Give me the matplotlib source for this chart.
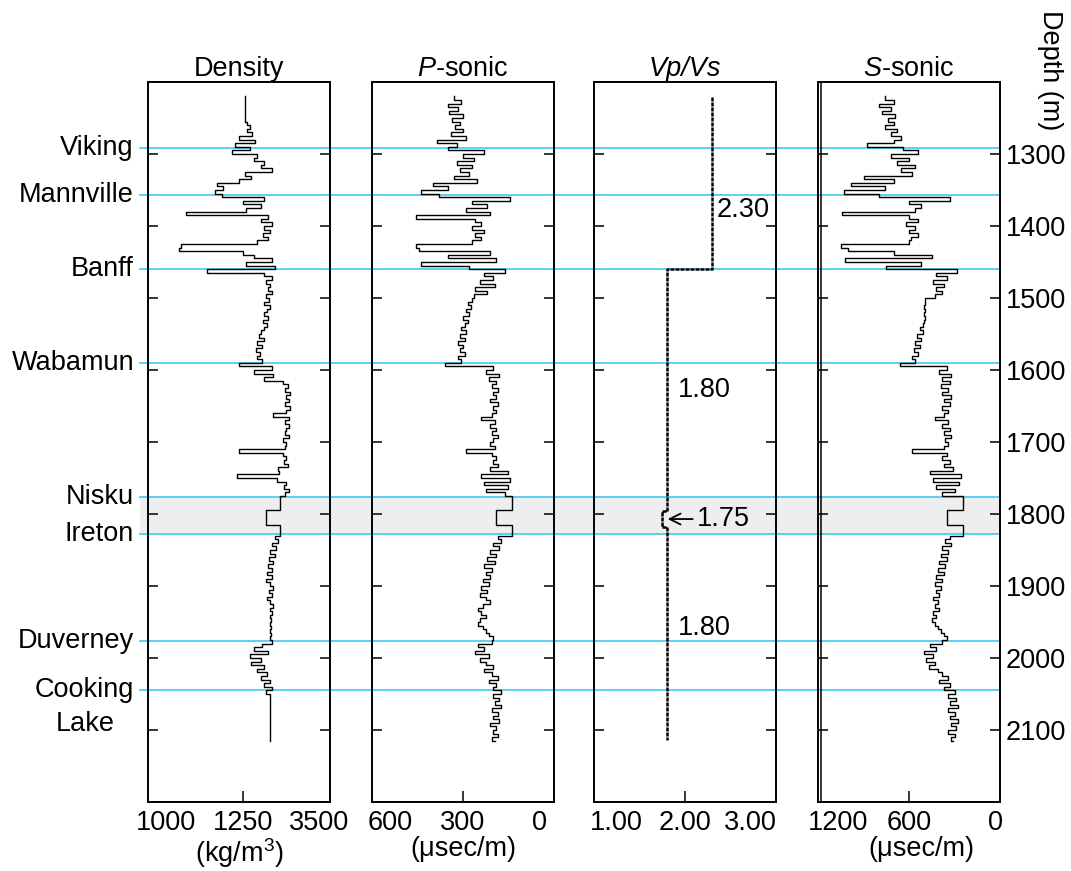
import numpy as np
import matplotlib
matplotlib.use("Agg")
import matplotlib.pyplot as plt
from matplotlib.transforms import blended_transform_factory
from matplotlib.patches import Rectangle
from matplotlib.lines import Line2D

plt.rcParams['font.family'] = ['Liberation Sans', 'DejaVu Sans']
plt.rcParams['mathtext.fontset'] = 'custom'
plt.rcParams['mathtext.rm'] = 'Liberation Sans'
plt.rcParams['mathtext.it'] = 'Liberation Sans:italic'

# ---- data -------------------------------------------------------------
# log samples every 5 m
depth = np.arange(1220, 2116, 5)

density = [
    2333, 2333, 2333, 2333, 2333, 2333, 2333, 2360, 2401, 2360,
    2430, 2250, 2470, 2200, 2400, 2154, 2500, 2450, 2600, 2550,
    2700, 2330, 2420, 2250, 1950, 2030, 1920, 2020, 2600, 2300,
    2550, 2350, 1522, 2650, 2550, 2700, 2600, 2680, 2580, 2650,
    2500, 1450, 1420, 2300, 2450, 2700, 2350, 2750, 1811, 2600,
    2700, 2620, 2680, 2650, 2700, 2620, 2660, 2600, 2680, 2640,
    2600, 2650, 2580, 2640, 2600, 2550, 2520, 2600, 2500, 2560,
    2480, 2540, 2500, 2560, 2250, 2700, 2450, 2720, 2600, 2850,
    2920, 2880, 2950, 2900, 2940, 2880, 2950, 2900, 2720, 2940,
    2880, 2930, 2900, 2880, 2930, 2860, 2900, 2880, 2250, 2850,
    2900, 2870, 2920, 2780, 2800, 2220, 2770, 2900, 2870, 2930,
    2880, 2814, 2814, 2814, 2814, 2621, 2621, 2621, 2621, 2814,
    2814, 2814, 2750, 2780, 2700, 2760, 2680, 2740, 2660, 2720,
    2650, 2700, 2640, 2700, 2620, 2680, 2720, 2660, 2700, 2640,
    2680, 2720, 2670, 2700, 2680, 2690, 2680, 2690, 2680, 2690,
    2680, 2700, 2560, 2450, 2650, 2400, 2550, 2420, 2600, 2500,
    2640, 2550, 2680, 2600, 2700, 2620, 2680, 2670, 2680, 2670,
    2680, 2680, 2670, 2680, 2680, 2670, 2680, 2680, 2670, 2680,
]

p_sonic = [
    330, 305, 350, 315, 345, 300, 335, 310, 325, 300,
    340, 290, 385, 320, 350, 230, 300, 265, 320, 270,
    310, 280, 330, 255, 400, 350, 440, 380, 145, 270,
    220, 290, 210, 455, 260, 240, 270, 230, 260, 240,
    270, 455, 445, 210, 350, 190, 440, 280, 160, 230,
    200, 245, 195, 260, 220, 265, 270, 285, 275, 290,
    280, 300, 285, 295, 305, 290, 310, 295, 315, 300,
    310, 295, 315, 305, 360, 200, 225, 180, 215, 190,
    205, 185, 200, 190, 210, 185, 200, 190, 205, 240,
    195, 210, 190, 205, 185, 200, 210, 195, 290, 205,
    190, 200, 185, 210, 150, 240, 145, 230, 150, 225,
    160, 138, 138, 138, 138, 191, 191, 191, 191, 138,
    138, 138, 185, 175, 200, 180, 210, 190, 220, 195,
    230, 205, 225, 210, 235, 215, 240, 220, 245, 225,
    210, 235, 250, 240, 225, 245, 250, 235, 225, 215,
    200, 205, 250, 230, 260, 215, 245, 225, 200, 230,
    205, 185, 215, 190, 200, 175, 200, 180, 195, 175,
    205, 185, 200, 180, 210, 190, 200, 185, 205, 195,
]

s_sonic = [
    760, 700, 800, 720, 780, 690, 740, 700, 760, 680,
    720, 650, 700, 880, 640, 540, 720, 600, 680, 560,
    650, 580, 900, 700, 980, 760, 1030, 800, 330, 600,
    520, 560, 1040, 600, 540, 620, 560, 600, 540, 590,
    600, 1050, 1000, 700, 450, 1020, 520, 750, 285, 420,
    350, 440, 370, 420, 380, 430, 495, 495, 500, 495,
    500, 495, 500, 510, 530, 510, 550, 520, 560, 530,
    570, 540, 580, 560, 660, 350, 400, 320, 380, 330,
    390, 340, 380, 320, 370, 330, 380, 340, 370, 430,
    340, 380, 330, 370, 320, 360, 340, 370, 580, 350,
    380, 330, 370, 310, 460, 260, 440, 270, 420, 300,
    380, 245, 245, 245, 245, 350, 350, 350, 350, 245,
    245, 245, 330, 360, 320, 380, 340, 390, 350, 400,
    360, 410, 370, 420, 380, 430, 390, 420, 400, 440,
    410, 430, 400, 440, 420, 450, 430, 410, 390, 370,
    350, 380, 460, 420, 500, 440, 490, 430, 470, 410,
    380, 340, 400, 330, 370, 300, 340, 290, 330, 280,
    340, 300, 330, 280, 320, 290, 340, 300, 320, 310,
]

vpvs_depth = [1221, 1460, 1796, 1818, 2114]
vpvs = [2.30, 1.80, 1.75, 1.80, 1.80]

formations = ['Viking', 'Mannville', 'Banff', 'Wabamun', 'Nisku', 'Ireton',
              'Duverney', 'Cooking']
tops = [1292, 1357, 1460, 1590, 1777, 1828, 1977, 2045]

depth_ticks = [1300, 1400, 1500, 1600, 1700, 1800, 1900, 2000, 2100]

titles = ['Density', '$\\mathit{P}$-sonic', 'Vp/Vs', '$\\mathit{S}$-sonic']
units = ['(kg/m$^3$)', '(\u03bcsec/m)', '', '(\u03bcsec/m)']
xlims = [(1000, 3500), (600, 0), (1.0, 3.0), (1200, 0)]
mid_ticks = [2300, 300, 2.0, 600]
xtick_labels = [['1000', '1250', '3500'], ['600', '300', '0'],
                ['1.00', '2.00', '3.00'], ['1200', '600', '0']]

# ---- layout -----------------------------------------------------------
W, H = 1071, 871
fig = plt.figure(figsize=(W / 100, H / 100), dpi=100)

lefts = [148, 372, 594, 818]
ax_w, ax_top, ax_bot = 182, 82, 802
label_frac = [(0.10, 0.94), (0.10, 0.923), (0.12, 0.857), (0.11, 0.973)]
FS = 19.5

axes = []
for i, lx in enumerate(lefts):
    ax = fig.add_axes([lx / W, 1 - ax_bot / H, ax_w / W, (ax_bot - ax_top) / H])
    ax.set_facecolor('none')
    ax.set_ylim(2200, 1200)
    ax.set_xlim(*xlims[i])
    for s in ax.spines.values():
        s.set_linewidth(1.4)
    ax.set_yticks(depth_ticks)
    ax.tick_params(axis='y', direction='in', left=True, right=True,
                   labelleft=False, labelright=(i == 3), length=7, width=1.1,
                   labelsize=FS, pad=4)
    x0, x1 = xlims[i]
    pos = [x0 + label_frac[i][0] * (x1 - x0), mid_ticks[i],
           x0 + label_frac[i][1] * (x1 - x0)]
    ax.set_xticks(pos)
    ax.set_xticklabels(xtick_labels[i])
    ax.tick_params(axis='x', direction='in', length=8, width=1.1,
                   labelsize=FS, pad=6)
    ticks = ax.xaxis.get_major_ticks()
    ticks[0].tick1line.set_visible(False)
    ticks[2].tick1line.set_visible(False)
    if i == 2:
        ax.set_title(titles[i], fontsize=FS, pad=4, fontstyle='italic')
    else:
        ax.set_title(titles[i], fontsize=FS, pad=4)
    if units[i]:
        if i == 3:
            ax.set_xlabel(units[i], fontsize=FS, labelpad=0, x=0.57)
        else:
            ax.set_xlabel(units[i], fontsize=FS, labelpad=0)
    axes.append(ax)

ax_d, ax_p, ax_v, ax_s = axes
ax_d.plot(density, depth, color='black', lw=1.0, drawstyle='steps-pre')
ax_p.plot(p_sonic, depth, color='black', lw=1.0, drawstyle='steps-pre')
ax_s.plot(s_sonic, depth, color='black', lw=1.0, drawstyle='steps-pre')
ax_s.axvline(1180, color='black', lw=1.1)
ax_v.plot(vpvs, vpvs_depth, color='black', lw=1.8, drawstyle='steps-pre',
          linestyle=(0, (1.6, 0.4)))

ax_v.text(2.35, 1378, '2.30', fontsize=FS, va='center', ha='left')
ax_v.text(1.92, 1628, '1.80', fontsize=FS, va='center', ha='left')
ax_v.text(1.92, 1958, '1.80', fontsize=FS, va='center', ha='left')
ax_v.annotate('1.75', xy=(1.81, 1807), xytext=(2.13, 1807), fontsize=FS,
              va='center', ha='left',
              arrowprops=dict(arrowstyle='->', color='black', lw=1.3,
                              shrinkA=1, shrinkB=0))

# formation tops across the whole figure
trans = blended_transform_factory(fig.transFigure, ax_d.transData)
xa, xb = 140 / W, 1000 / W
band = Rectangle((xa, tops[4]), xb - xa, tops[5] - tops[4], transform=trans,
                 facecolor='#eeeeee', edgecolor='none', zorder=-2)
fig.add_artist(band)
for name, d in zip(formations, tops):
    fig.add_artist(Line2D([xa, xb], [d, d], transform=trans, color='#3ccbf0',
                          lw=1.2, zorder=-1))
    fig.text(134 / W, d, name, transform=trans, ha='right', va='center',
             fontsize=FS)
fig.text(85 / W, tops[7] + 46, 'Lake', transform=trans, ha='center',
         va='center', fontsize=FS)

fig.text(1050 / W, 1 - 70 / H, 'Depth (m)', rotation=-90, ha='center',
         va='center', fontsize=FS)

fig.savefig('out.png', dpi=100)
